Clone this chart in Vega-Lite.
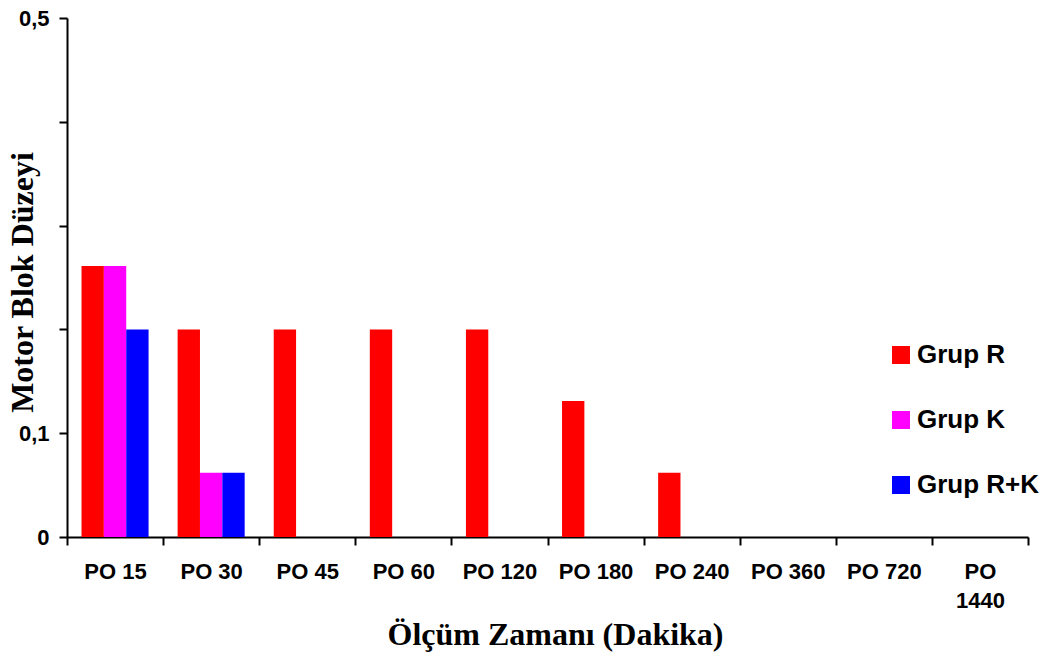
{
  "$schema": "https://vega.github.io/schema/vega-lite/v6.json",
  "width": 961,
  "height": 519,
  "autosize": {"type": "none"},
  "padding": {"left": 67, "top": 18, "right": 25, "bottom": 116},
  "background": "white",
  "config": {
    "view": {"stroke": null},
    "axis": {"domainColor": "black", "tickColor": "black", "domainWidth": 2, "tickWidth": 2, "labelColor": "black", "titleColor": "black", "grid": false}
  },
  "data": {
    "values": [
      {"time": "PO 15", "group": "Grup R", "value": 0.261},
      {"time": "PO 15", "group": "Grup K", "value": 0.261},
      {"time": "PO 15", "group": "Grup R+K", "value": 0.2},
      {"time": "PO 30", "group": "Grup R", "value": 0.2},
      {"time": "PO 30", "group": "Grup K", "value": 0.062},
      {"time": "PO 30", "group": "Grup R+K", "value": 0.062},
      {"time": "PO 45", "group": "Grup R", "value": 0.2},
      {"time": "PO 45", "group": "Grup K", "value": 0},
      {"time": "PO 45", "group": "Grup R+K", "value": 0},
      {"time": "PO 60", "group": "Grup R", "value": 0.2},
      {"time": "PO 60", "group": "Grup K", "value": 0},
      {"time": "PO 60", "group": "Grup R+K", "value": 0},
      {"time": "PO 120", "group": "Grup R", "value": 0.2},
      {"time": "PO 120", "group": "Grup K", "value": 0},
      {"time": "PO 120", "group": "Grup R+K", "value": 0},
      {"time": "PO 180", "group": "Grup R", "value": 0.131},
      {"time": "PO 180", "group": "Grup K", "value": 0},
      {"time": "PO 180", "group": "Grup R+K", "value": 0},
      {"time": "PO 240", "group": "Grup R", "value": 0.062},
      {"time": "PO 240", "group": "Grup K", "value": 0},
      {"time": "PO 240", "group": "Grup R+K", "value": 0},
      {"time": "PO 360", "group": "Grup R", "value": 0},
      {"time": "PO 360", "group": "Grup K", "value": 0},
      {"time": "PO 360", "group": "Grup R+K", "value": 0},
      {"time": "PO 720", "group": "Grup R", "value": 0},
      {"time": "PO 720", "group": "Grup K", "value": 0},
      {"time": "PO 720", "group": "Grup R+K", "value": 0},
      {"time": "PO 1440", "group": "Grup R", "value": 0},
      {"time": "PO 1440", "group": "Grup K", "value": 0},
      {"time": "PO 1440", "group": "Grup R+K", "value": 0}
    ]
  },
  "mark": {"type": "bar"},
  "encoding": {
    "x": {
      "field": "time",
      "type": "nominal",
      "sort": ["PO 15", "PO 30", "PO 45", "PO 60", "PO 120", "PO 180", "PO 240", "PO 360", "PO 720", "PO 1440"],
      "scale": {"paddingInner": 0, "paddingOuter": 0},
      "axis": {
        "title": "Ölçüm Zamanı (Dakika)",
        "labelAngle": 0,
        "tickBand": "extent",
        "tickSize": 8,
        "labelFont": "Liberation Sans",
        "labelFontWeight": "bold",
        "labelFontSize": 22,
        "labelPadding": 16,
        "labelLineHeight": 29,
        "labelLimit": 200,
        "labelExpr": "datum.label == 'PO 1440' ? ['PO', '1440'] : datum.label",
        "titleFont": "Liberation Serif",
        "titleFontSize": 32,
        "titleFontWeight": "bold",
        "titleX": 488,
        "titleY": 107,
        "titleBaseline": "alphabetic"
      }
    },
    "xOffset": {
      "field": "group",
      "type": "nominal",
      "sort": ["Grup R", "Grup K", "Grup R+K"],
      "scale": {"paddingInner": 0, "paddingOuter": 0.65}
    },
    "y": {
      "field": "value",
      "type": "quantitative",
      "scale": {"domain": [0, 0.5], "nice": false},
      "axis": {
        "values": [0, 0.1, 0.2, 0.3, 0.4, 0.5],
        "labelExpr": "datum.value == 0 ? '0' : (abs(datum.value - 0.1) < 0.001 ? '0,1' : (abs(datum.value - 0.5) < 0.001 ? '0,5' : ''))",
        "tickSize": 8,
        "labelPadding": 10,
        "labelFont": "Liberation Sans",
        "labelFontWeight": "bold",
        "labelFontSize": 22,
        "title": "Motor Blok Düzeyi",
        "titleFont": "Liberation Serif",
        "titleFontSize": 32,
        "titleFontWeight": "bold",
        "titleX": -35,
        "titleY": 264,
        "titleBaseline": "alphabetic",
        "titleAngle": -90
      }
    },
    "color": {
      "field": "group",
      "type": "nominal",
      "sort": ["Grup R", "Grup K", "Grup R+K"],
      "scale": {"domain": ["Grup R", "Grup K", "Grup R+K"], "range": ["#FF0000", "#FF00FF", "#0000FF"]},
      "legend": {
        "orient": "none",
        "legendX": 821,
        "legendY": 324,
        "title": null,
        "symbolType": "square",
        "symbolSize": 324,
        "symbolStrokeWidth": 0,
        "symbolOpacity": 1,
        "labelFont": "Liberation Sans",
        "labelFontWeight": "bold",
        "labelFontSize": 26,
        "labelColor": "black",
        "labelOffset": 3,
        "rowPadding": 39,
        "padding": 0
      }
    }
  }
}
